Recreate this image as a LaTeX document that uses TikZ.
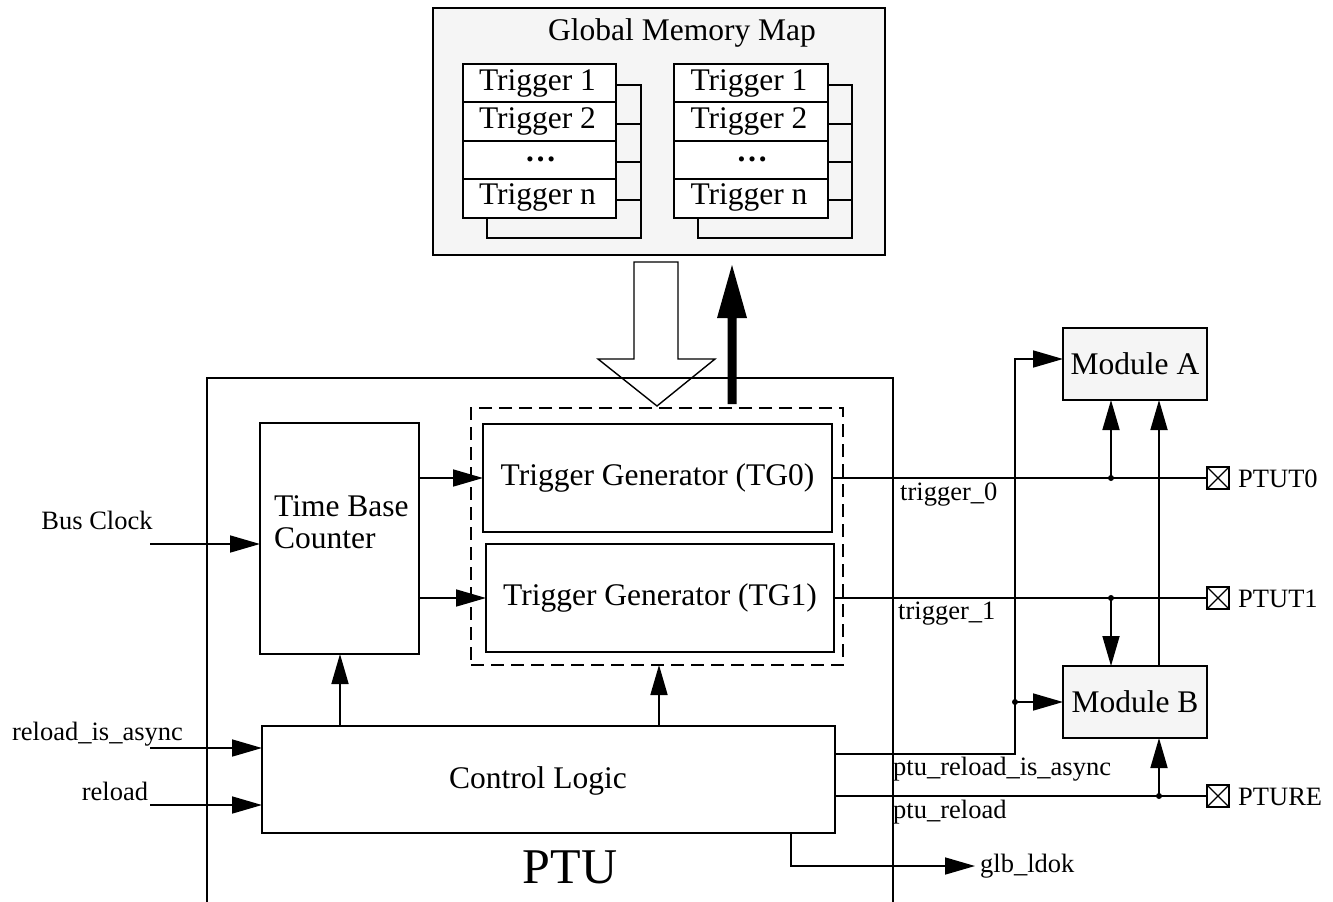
\documentclass[tikz,border=0pt]{standalone}
\usepackage{fontspec}
\setmainfont{Liberation Serif}
\usetikzlibrary{arrows.meta}
\definecolor{boxgray}{HTML}{F5F5F5}
\begin{document}
\begin{tikzpicture}[x=1pt,y=-1pt,
  box/.style={draw,line width=2pt,inner sep=0pt,outer sep=0pt},
  nfont/.style={font=\fontsize{31.5}{32}\selectfont},
  lfont/.style={font=\fontsize{26.5}{28}\selectfont},
  conn/.style={line width=1.7pt},
  arr/.style={conn,-{Triangle[length=30pt,width=17pt]}},
  jdot/.style={circle,fill,inner sep=0pt,minimum size=6pt},
  lbl/.style={lfont,inner sep=0pt},
  pinbox/.style={draw,line width=1.7pt,minimum size=22pt,inner sep=0pt,outer sep=0pt,
    path picture={\draw[line width=1.3pt] (path picture bounding box.north west) -- (path picture bounding box.south east)
      (path picture bounding box.south west) -- (path picture bounding box.north east);}}
]
\useasboundingbox (0,0) rectangle (1333,902);

% ---------------- Global memory map ----------------
\node[box,fill=boxgray,minimum width=452pt,minimum height=247pt] (mm) at (659,131.5) {};
\node[nfont,anchor=base,inner sep=0pt] (mmtitle) at (682,40) {Global Memory Map};
\foreach \xa/\xb/\xc/\xd in {463/616/641/487, 674/828/852/698} {
  \draw[box] (\xb,85) -- (\xc,85) -- (\xc,238) -- (\xd,238) -- (\xd,218);
  \draw[box] (\xb,124) -- (\xc,124) (\xb,162) -- (\xc,162) (\xb,200) -- (\xc,200);
  \draw[box,fill=white] (\xa,64) rectangle (\xb,218);
  \draw[box] (\xa,102) -- (\xb,102) (\xa,141) -- (\xb,141) (\xa,179) -- (\xb,179);
  \node[nfont,anchor=base,inner sep=0pt] at ({(\xa+\xb)/2-2},90) {Trigger 1};
  \node[nfont,anchor=base,inner sep=0pt] at ({(\xa+\xb)/2-2},128.5) {Trigger 2};
  \node[nfont,anchor=base,inner sep=0pt] at ({(\xa+\xb)/2+1},161) {\bfseries …};
  \node[nfont,anchor=base,inner sep=0pt] at ({(\xa+\xb)/2-2},204.5) {Trigger n};
}

% ---------------- big arrows ----------------
\draw[line width=1.4pt,line join=miter] (634,262) -- (678,262) -- (678,359) -- (715,359) -- (657,406) -- (598,359) -- (634,359) -- cycle;
\fill (727.5,404) -- (727.5,318) -- (717,318) -- (732,265) -- (747,318) -- (736.5,318) -- (736.5,404) -- cycle;

% ---------------- PTU ----------------
\draw[box] (207,902) -- (207,378) -- (893,378) -- (893,902);
\node[anchor=base,inner sep=0pt,font=\fontsize{50}{50}\selectfont] (ptu) at (570,883) {PTU};

\node[box,minimum width=159pt,minimum height=231pt] (tbc) at (339.5,538.5) {};
\node[nfont,align=left,anchor=north west,inner sep=0pt] (tbct) at (274,495) {Time Base\\Counter};

\node[box,dashed,line width=1.8pt,dash pattern=on 13pt off 7pt,minimum width=372pt,minimum height=257pt] (tgbox) at (657,536.5) {};
\node[box,nfont,minimum width=349pt,minimum height=108pt] (tg0) at (657.5,478) {Trigger Generator (TG0)};
\node[box,nfont,minimum width=348pt,minimum height=108pt] (tg1) at (660,598) {Trigger Generator (TG1)};

\node[box,minimum width=573pt,minimum height=107pt] (cl) at (548.5,779.5) {};
\node[nfont,anchor=base,inner sep=0pt] (clt) at (538,788) {Control Logic};

\draw[arr] (tbc.east |- tg0) -- (tg0.west);
\draw[arr] (tbc.east |- tg1) -- (tg1.west);

% inputs
\coordinate (inbc) at (150,544);
\coordinate (inra) at (150,748);
\coordinate (inr) at (150,805);
\draw[arr] (inbc) -- (inbc -| tbc.west);
\draw[arr] (inra) -- (inra -| cl.west);
\draw[arr] (inr) -- (inr -| cl.west);
\node[lbl,anchor=base] (lbc) at (97,529) {Bus Clock};
\node[lbl,anchor=base] (lra) at (97.5,740) {reload\_is\_async};
\node[lbl,anchor=base] (lr) at (115,800) {reload};

% control logic upward arrows
\coordinate (c1) at (340,726);
\coordinate (c2) at (659,726);
\draw[arr] (c1) -- (c1 |- tbc.south);
\draw[arr] (c2) -- (c2 |- tgbox.south);

% ---------------- modules and pins ----------------
\node[box,fill=boxgray,nfont,minimum width=144pt,minimum height=72pt] (ma) at (1135,364) {Module A};
\node[box,fill=boxgray,nfont,minimum width=144pt,minimum height=72pt] (mb) at (1135,702) {Module B};

\node[pinbox] (p0) at (1218,478) {};
\node[pinbox] (p1) at (1218,598) {};
\node[pinbox] (pr) at (1218,796) {};
\node[lbl,anchor=base west] at (1238,487) {PTUT0};
\node[lbl,anchor=base west] at (1238,607) {PTUT1};
\node[lbl,anchor=base west] at (1238,805) {PTURE};

\node[jdot] (d0) at (1111,478) {};
\node[jdot] (d1) at (1111,598) {};
\node[jdot] (dr) at (1159,796) {};
\node[jdot] (da) at (1015,702) {};

\draw[conn] (tg0.east) -- (p0.west);
\draw[conn] (tg1.east) -- (p1.west);
\draw[arr] (d0.center) -- (d0 |- ma.south);
\draw[arr] (d1.center) -- (d1 |- mb.north);
\coordinate (mbA) at (1159,666);
\draw[arr] (mbA) -- (mbA |- ma.south);

\coordinate (ya) at (0,754);
\coordinate (yr) at (0,796);
\coordinate (ra) at (1015,359);
\draw[arr] (cl.east |- ya) -| (ra) -- (ra -| ma.west);
\draw[arr] (da.center) -- (da -| mb.west);
\draw[conn] (cl.east |- yr) -- (pr.west);
\draw[arr] (dr.center) -- (dr |- mb.south);

\coordinate (gl) at (791,833);
\coordinate (glend) at (975,866);
\draw[arr] (gl) |- (glend);
\node[lbl,anchor=base west] at (980,872) {glb\_ldok};

\node[lbl,anchor=base west] at (900,500) {trigger\_0};
\node[lbl,anchor=base west] at (898,619) {trigger\_1};
\node[lbl,anchor=base west] at (893,775) {ptu\_reload\_is\_async};
\node[lbl,anchor=base west] at (893,818) {ptu\_reload};
\end{tikzpicture}
\end{document}
